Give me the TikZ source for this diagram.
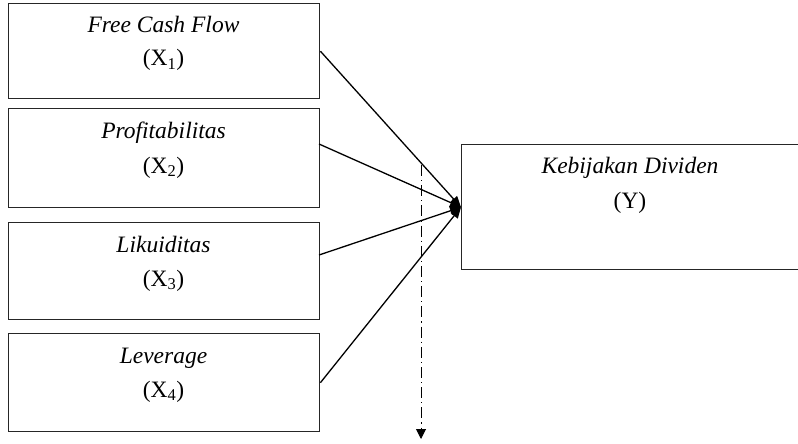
\documentclass[tikz,border=0pt]{standalone}
\usepackage{fontspec}
\setmainfont{Liberation Serif}
\usetikzlibrary{arrows.meta}
\begin{document}
\begin{tikzpicture}[x=1pt,y=-1pt,
  box/.style={draw=black!85, line width=1.4pt, anchor=north west, inner sep=0pt},
  lbl/.style={anchor=base, inner sep=0pt, font=\fontsize{23.5}{28}\selectfont},
  link/.style={line width=1.3pt, -{Triangle[length=11pt,width=9pt]}},
  guide/.style={line width=1pt, dash pattern=on 11pt off 4pt on 1.2pt off 4pt, -{Triangle[length=10pt,width=10pt]}}]
\clip (0,0) rectangle (798,444);
\node[box, minimum width=311pt, minimum height=95pt] (b1) at (8,3) {};
\node[box, minimum width=311pt, minimum height=99pt] (b2) at (8,108) {};
\node[box, minimum width=311pt, minimum height=97pt] (b3) at (8,222) {};
\node[box, minimum width=311pt, minimum height=98pt] (b4) at (8,333) {};
\node[box, minimum width=360pt, minimum height=125pt] (y) at (461,144) {};
\node[lbl] (t1) at (163.5,33) {\textit{Free Cash Flow}};
\node[lbl] (s1) at (163.5,66) {(X\textsubscript{1})};
\node[lbl] (t2) at (163.5,138) {\textit{Profitabilitas}};
\node[lbl] (s2) at (163.5,173) {(X\textsubscript{2})};
\node[lbl] (t3) at (163.5,252) {\textit{Likuiditas}};
\node[lbl] (s3) at (163.5,286) {(X\textsubscript{3})};
\node[lbl] (t4) at (163.5,363) {\textit{Leverage}};
\node[lbl] (s4) at (163.5,397) {(X\textsubscript{4})};
\node[lbl] (ty) at (630,173) {\textit{Kebijakan Dividen}};
\node[lbl] (sy) at (630,208) {(Y)};
\coordinate (e2) at (319,144);
\coordinate (e3) at (319,255);
\coordinate (ds) at (421,165);
\coordinate (de) at (421,439);
\draw[link] (b1.east) -- (y.west);
\draw[link] (e2) -- (y.west);
\draw[link] (e3) -- (y.west);
\draw[link] (b4.east) -- (y.west);
\draw[guide] (ds) -- (de);
\end{tikzpicture}
\end{document}
